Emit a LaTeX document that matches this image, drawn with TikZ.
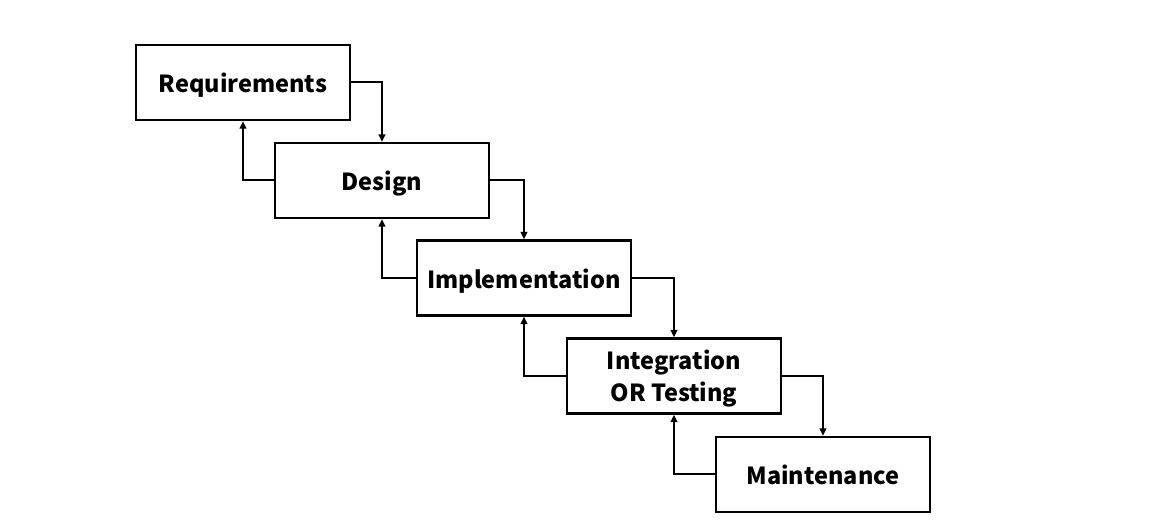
\documentclass[tikz,border=0pt]{standalone}
\usepackage{fontspec}
\setmainfont{Noto Sans CJK SC}
\usetikzlibrary{arrows.meta}
\begin{document}
\begin{tikzpicture}[x=1pt,y=-1pt,
  stage/.style={draw, line width=2.2pt, minimum width=214pt, minimum height=75pt, inner sep=0pt, text height=21pt, text depth=0pt, font=\fontsize{23.5}{32}\selectfont\bfseries, align=center},
  flow/.style={line width=2pt, -{Triangle[length=7.5pt,width=6.5pt]}}]
\useasboundingbox (0,0) rectangle (1152,526);
\node[stage] (req) at (243,82.5) {Requirements};
\node[stage] (des) at (382,180.5) {Design};
\node[stage] (imp) at (524,278) {Implementation};
\node[stage, text height=51pt] (int) at (674,376) {Integration\\OR Testing};
\node[stage] (mai) at (823,474.5) {Maintenance};
\foreach \a/\b in {req/des, des/imp, imp/int, int/mai}{
  \draw[flow] (\a.east) -| (\b.north);
  \draw[flow] (\b.west) -| (\a.south);
}
\end{tikzpicture}
\end{document}
